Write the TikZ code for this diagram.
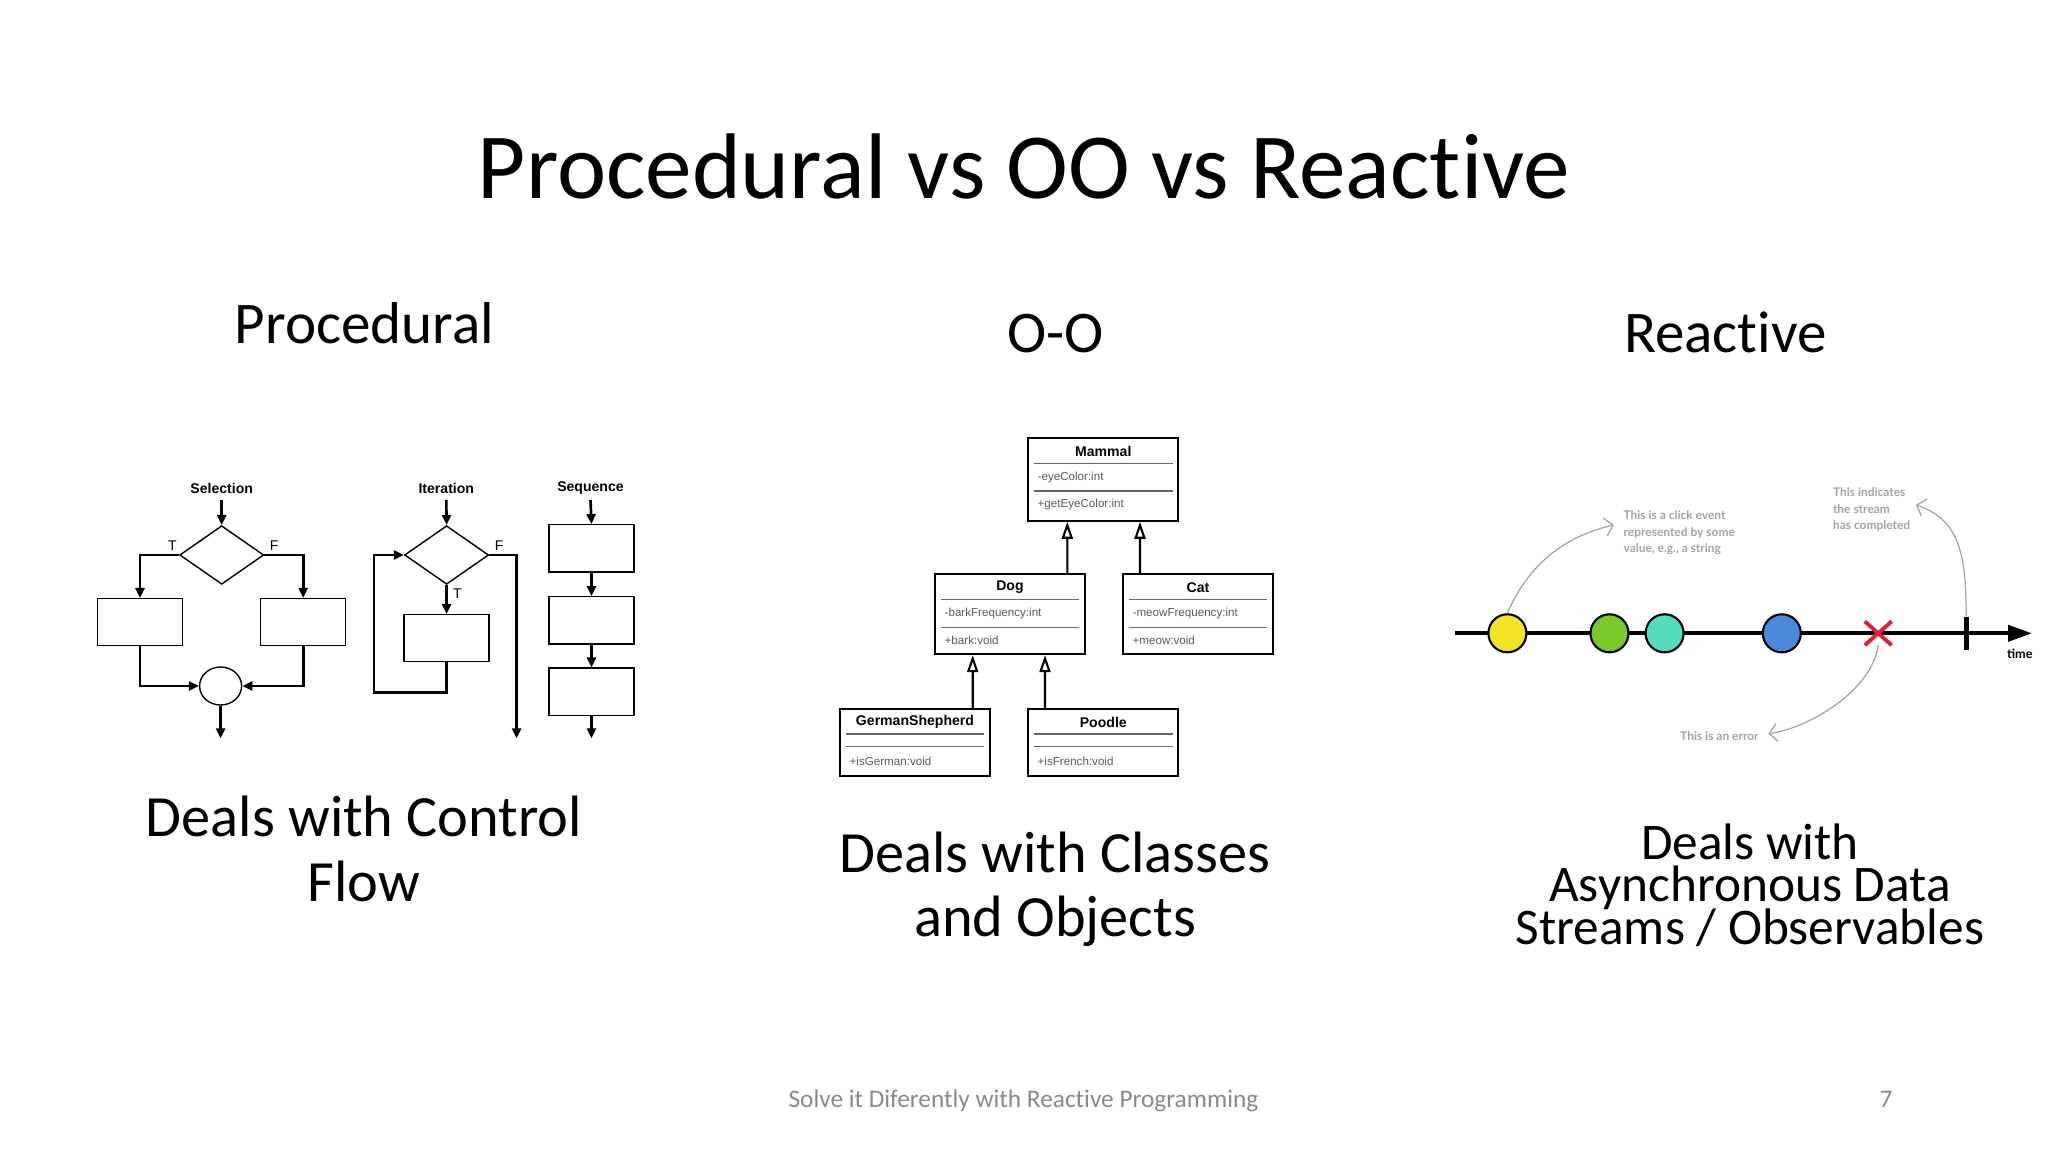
\documentclass[tikz,border=0pt]{standalone}
\usepackage{fontspec}
\setmainfont{Carlito}[Ligatures=NoCommon]
\newfontfamily\arialfont{Liberation Sans}
\newfontfamily\notefont{Lato}
\usetikzlibrary{arrows.meta,shapes.geometric,shapes.misc}
\definecolor{footgray}{HTML}{898989}
\definecolor{notegray}{HTML}{A3A3A3}
\definecolor{evyellow}{HTML}{F2E324}
\definecolor{evgreen}{HTML}{78C928}
\definecolor{evteal}{HTML}{52DDBE}
\definecolor{evblue}{HTML}{4A8ADB}
\definecolor{errred}{HTML}{E0203A}

\begin{document}
\begin{tikzpicture}[x=0.01cm, y=-0.01cm,
    flow/.style={-{Triangle[length=1mm,width=0.9mm]}, line width=0.75pt},
    fbox/.style={draw, line width=0.4pt, minimum width=0.85cm, minimum height=0.47cm, inner sep=0},
    fdec/.style={draw, diamond, line width=0.4pt, minimum width=0.84cm, minimum height=0.586cm, inner sep=0},
    flabel/.style={font=\arialfont\bfseries\fontsize{4}{5}\selectfont},
    ftf/.style={font=\arialfont\fontsize{4}{5}\selectfont},
    uml/.style={draw, line width=0.6pt, minimum width=1.5cm, inner sep=0},
    umlname/.style={font=\arialfont\bfseries\fontsize{4}{5}\selectfont},
    umlitem/.style={anchor=west, inner sep=0, text=black!65, font=\arialfont\fontsize{3.3}{4}\selectfont},
    umlsep/.style={black!60, line width=0.35pt},
    inherit/.style={-{Triangle[open,length=1.7mm,width=1.1mm]}, line width=0.6pt},
    event/.style={draw, circle, line width=0.6pt, minimum size=0.38cm, inner sep=0},
    note/.style={inner sep=0, text=notegray, align=left, font=\notefont\bfseries\fontsize{3.4}{4.75}\selectfont},
    noteline/.style={notegray, line width=0.35pt, -{Straight Barb[length=0.8mm,width=1.8mm]}},
    heading/.style={anchor=base, font=\fontsize{16.8}{20}\selectfont},
    body/.style={anchor=base, font=\fontsize{16.6}{20}\selectfont},
    rxbody/.style={anchor=base, inner sep=0, text height=0.6em, text depth=0.2em, font=\fontsize{14.6}{16}\selectfont}]

    \fill[white] (0,0) rectangle (2048,1152);
    \useasboundingbox (0,0) rectangle (2048,1152);

    % titel en kolomkoppen
    \node[anchor=base, font=\fontsize{26.5}{30}\selectfont] (title) at (1023.9,198.5) {Procedural vs OO vs Reactive};
    \node[heading] (procHead) at (364.4,343.5) {Procedural};
    \node[heading] (ooHead) at (1055.3,352.6) {O-O};
    \node[heading] (rxHead) at (1725.3,352.6) {Reactive};

    % Selection
    \node[flabel] (selLab) at (221.7,488.3) {Selection};
    \coordinate (selIn) at (221.7,500);
    \node[fdec] (selDec) at (221.7,555) {};
    \node[fbox] (selT) at (140,622.2) {};
    \node[fbox] (selF) at (303.2,622.2) {};
    \node[draw, ellipse, line width=0.4pt, minimum width=0.42cm, minimum height=0.38cm, inner sep=0] (selJoin) at (220.6,686) {};
    \coordinate (selOut) at (220.6,738.3);
    \node[ftf] (selTlab) at (172.5,546) {T};
    \node[ftf] (selFlab) at (274.2,546) {F};
    \draw[flow] (selIn) -- (selDec.north);
    \draw[flow] (selDec.west) -| (selT.north);
    \draw[flow] (selDec.east) -| (selF.north);
    \draw[flow] (selT.south) |- (selJoin.west);
    \draw[flow] (selF.south) |- (selJoin.east);
    \draw[flow] (selJoin.south) -- (selOut);

    % Iteration
    \node[flabel] (itLab) at (446.3,488.3) {Iteration};
    \coordinate (itIn) at (446.3,500);
    \node[fdec] (itDec) at (446.6,555) {};
    \node[fbox] (itBody) at (446.6,638.2) {};
    \coordinate (itBack) at (374.1,692.3);
    \coordinate (itOut) at (516.6,738.3);
    \node[ftf] (itTlab) at (457.4,593.3) {T};
    \node[ftf] (itFlab) at (499.2,546) {F};
    \draw[flow] (itIn) -- (itDec.north);
    \draw[flow] (itDec.south) -- (itBody.north);
    \draw[flow] (itBody.south) |- (itBack) |- (itDec.west);
    \draw[flow] (itDec.east) -| (itOut);

    % Sequence
    \node[flabel] (seqLab) at (590.5,488.3) {Sequence};
    \coordinate (seqIn) at (590.5,500);
    \node[fbox] (seqA) at (591.5,548.3) {};
    \node[fbox] (seqB) at (591.5,620.3) {};
    \node[fbox] (seqC) at (591.5,691.7) {};
    \coordinate (seqOut) at (591.5,738.3);
    \draw[flow] (seqIn) -- (seqA.north);
    \draw[flow] (seqA.south) -- (seqB.north);
    \draw[flow] (seqB.south) -- (seqC.north);
    \draw[flow] (seqC.south) -- (seqOut);

    % klassen
    \node[uml, minimum height=0.824cm] (mammal) at (1103.3,479.5) {};
    \node[umlname] (mammalName) at (1103.3,451.7) {Mammal};
    \draw[umlsep] (1034,463.3) -- (1172.7,463.3);
    \draw[umlsep] (1034,491) -- (1172.7,491);
    \node[umlitem] (mammalAttr) at (1037,477.7) {-eyeColor:int};
    \node[umlitem] (mammalOp) at (1037,504.3) {+getEyeColor:int};

    \node[uml, minimum height=0.797cm] (dog) at (1010,614.2) {};
    \node[umlname] (dogName) at (1010,587.3) {Dog};
    \draw[umlsep] (941,599.3) -- (1079,599.3);
    \draw[umlsep] (941,627.7) -- (1079,627.7);
    \node[umlitem] (dogAttr) at (944,613.3) {-barkFrequency:int};
    \node[umlitem] (dogOp) at (944,640) {+bark:void};

    \node[uml, minimum height=0.797cm] (cat) at (1198,614.2) {};
    \node[umlname] (catName) at (1198,587.3) {Cat};
    \draw[umlsep] (1129,599.3) -- (1267,599.3);
    \draw[umlsep] (1129,627.7) -- (1267,627.7);
    \node[umlitem] (catAttr) at (1132,613.3) {-meowFrequency:int};
    \node[umlitem] (catOp) at (1132,640) {+meow:void};

    \node[uml, minimum height=0.667cm] (gs) at (915,742.7) {};
    \node[umlname] (gsName) at (915,722.3) {GermanShepherd};
    \draw[umlsep] (846,734) -- (984,734);
    \draw[umlsep] (846,746.7) -- (984,746.7);
    \node[umlitem] (gsOp) at (849,761) {+isGerman:void};

    \node[uml, minimum height=0.667cm] (poodle) at (1103.3,742.7) {};
    \node[umlname] (poodleName) at (1103.3,722.3) {Poodle};
    \draw[umlsep] (1034,734) -- (1172.7,734);
    \draw[umlsep] (1034,746.7) -- (1172.7,746.7);
    \node[umlitem] (poodleOp) at (1037,761) {+isFrench:void};

    % overerving
    \draw[inherit] ([xshift=0.573cm]dog.north) -- ([xshift=-0.36cm]mammal.south);
    \draw[inherit] ([xshift=-0.58cm]cat.north) -- ([xshift=0.367cm]mammal.south);
    \draw[inherit] ([xshift=0.577cm]gs.north) -- ([xshift=-0.373cm]dog.south);
    \draw[inherit] ([xshift=-0.583cm]poodle.north) -- ([xshift=0.35cm]dog.south);

    % tijdlijn
    \coordinate (tStart) at (1455.3,633.3);
    \coordinate (tEnd) at (2032,633.3);
    \draw[line width=1.1pt, -{Triangle[length=2.4mm,width=1.6mm]}] (tStart) -- (tEnd);
    \node[event, fill=evyellow] (ev1) at (1507.4,633.3) {};
    \node[event, fill=evgreen] (ev2) at (1609.5,633.3) {};
    \node[event, fill=evteal] (ev3) at (1664.6,633.3) {};
    \node[event, fill=evblue] (ev4) at (1781.8,633.3) {};
    \node[cross out, draw=errred, line width=1.1pt, minimum width=0.23cm, minimum height=0.2cm, inner sep=0] (err) at (1878.2,633.3) {};
    \coordinate (doneTop) at (1966.2,616.7);
    \coordinate (doneBot) at (1966.2,650);
    \draw[line width=1.4pt] (doneTop) -- (doneBot);
    \node[font=\notefont\bfseries\fontsize{3.6}{4}\selectfont] (timeLab) at (2019.8,654.3) {time};

    % uitleg bij de tijdlijn
    \node[note, anchor=north west] (clickNote) at (1622.9,510) {This is a click event\\represented by some\\value, e.g., a string};
    \node[note, anchor=north west] (doneNote) at (1832.3,487) {This indicates\\the stream\\has completed};
    \node[note] (errNote) at (1719.4,735.7) {This is an error};
    \draw[noteline] (ev1.north) .. controls (1530,560) and (1570,535) .. ([shift={(-9,-8)}]clickNote.west);
    \draw[noteline] (doneTop) .. controls (1966,560) and (1962,520) .. ([shift={(5,-5)}]doneNote.east);
    \draw[noteline] (err.south) .. controls (1872,690) and (1810,728) .. ([shift={(9,-2)}]errNote.east);

    % onderschriften
    \node[body] (procBodyA) at (364,836.7) {Deals with Control};
    \node[body] (procBodyB) at (364,901.7) {Flow};
    \node[body] (ooBodyA) at (1055,872) {Deals with Classes};
    \node[body] (ooBodyB) at (1055,936) {and Objects};
    \node[rxbody] (rxBodyA) at (1750,859) {Deals with};
    \node[rxbody] (rxBodyB) at (1750,901) {Asynchronous Data};
    \node[rxbody] (rxBodyC) at (1750,944) {Streams / Observables};

    % voettekst
    \node[anchor=base, text=footgray, font=\fontsize{7.2}{8}\selectfont] (footer) at (1023.4,1107) {Solve it Diferently with Reactive Programming};
    \node[anchor=base, text=footgray, font=\fontsize{7.2}{8}\selectfont] (pageNo) at (1886,1107) {7};
\end{tikzpicture}
\end{document}
